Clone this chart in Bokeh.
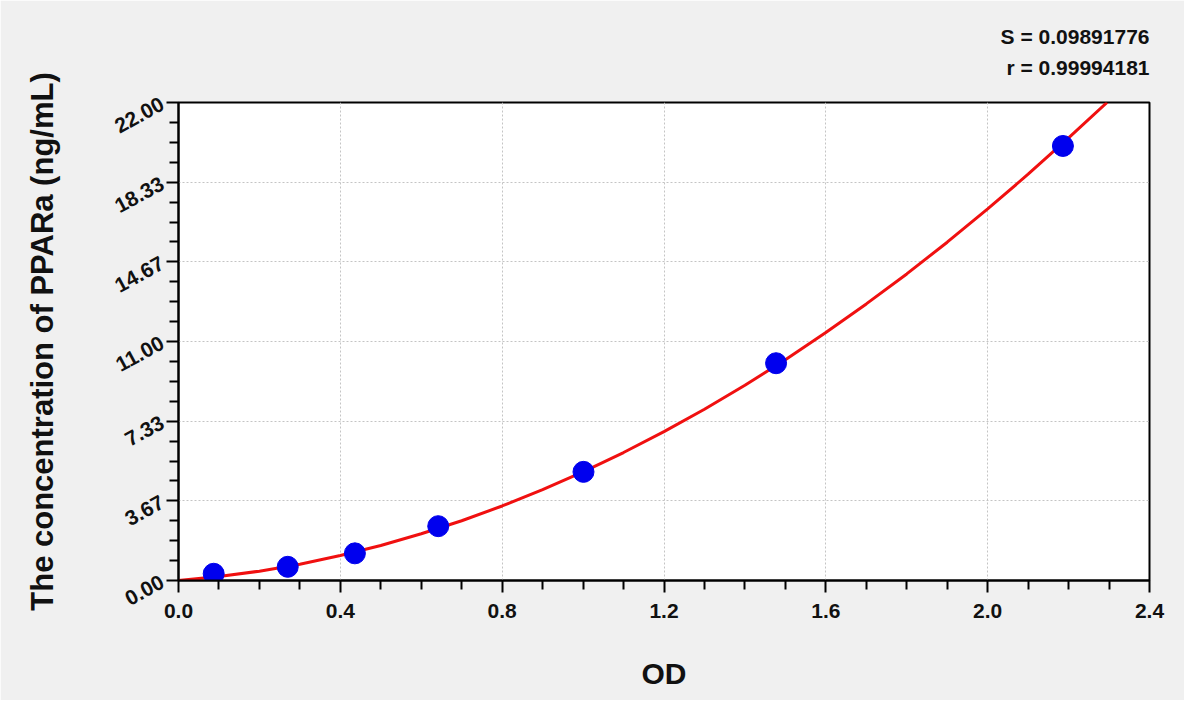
from bokeh.plotting import figure
from bokeh.models import FixedTicker, Range1d
from bokeh.embed import file_html
from bokeh.resources import INLINE

# Standard points (OD vs concentration)
od_points = [0.087, 0.270, 0.436, 0.642, 1.001, 1.477, 2.186]
conc_points = [0.31, 0.63, 1.25, 2.50, 5.00, 10.00, 20.00]

# Fitted curve
curve_od = [0.0, 0.1, 0.2, 0.3, 0.4, 0.5, 0.6, 0.7, 0.8, 0.9, 1.0, 1.1, 1.2,
            1.3, 1.4, 1.5, 1.6, 1.7, 1.8, 1.9, 2.0, 2.1, 2.2, 2.295]
curve_conc = [0.00, 0.18, 0.43, 0.75, 1.15, 1.61, 2.15, 2.75, 3.43, 4.18, 5.00,
              5.89, 6.85, 7.88, 8.99, 10.16, 11.41, 12.73, 14.11, 15.57, 17.10,
              18.70, 20.37, 22.00]

x_ticks = [0.0, 0.4, 0.8, 1.2, 1.6, 2.0, 2.4]
x_tick_labels = ["0.0", "0.4", "0.8", "1.2", "1.6", "2.0", "2.4"]
x_minor = [0.1, 0.2, 0.3, 0.5, 0.6, 0.7, 0.9, 1.0, 1.1, 1.3, 1.4, 1.5,
           1.7, 1.8, 1.9, 2.1, 2.2, 2.3]
y_ticks = [0.0, 22 / 6, 44 / 6, 11.0, 88 / 6, 110 / 6, 22.0]
y_tick_labels = ["0.00", "3.67", "7.33", "11.00", "14.67", "18.33", "22.00"]
y_minor = [22 / 24 * k for k in range(25) if k % 4 != 0]

stats_lines = ["S = 0.09891776", "r = 0.99994181"]

BG = "#f0f0f0"
FONT = "Liberation Sans"
TXT = "#111111"

p = figure(width=1184, height=700, output_backend="svg", toolbar_location=None,
           x_range=Range1d(0, 2.4), y_range=Range1d(0, 22),
           min_border_left=178, min_border_right=35,
           min_border_top=100, min_border_bottom=120,
           background_fill_color="white", border_fill_color=BG)

p.outline_line_color = "black"
p.outline_line_width = 2

# Stats text at top right (two lines, right aligned)
p.title.text = "\n".join(stats_lines)
p.title.align = "right"
p.title.text_align = "right"
p.title.text_font = FONT
p.title.text_font_style = "bold"
p.title.text_font_size = "21px"
p.title.text_line_height = 1.36
p.title.text_color = TXT
p.title.standoff = 46

# Grid
for g in (p.xgrid, p.ygrid):
    g.grid_line_color = "#c4c4c4"
    g.grid_line_dash = "2 2"
    g.grid_line_width = 1
p.xgrid.ticker = FixedTicker(ticks=x_ticks)
p.ygrid.ticker = FixedTicker(ticks=y_ticks)

# X axis
xa = p.xaxis[0]
xa.ticker = FixedTicker(ticks=x_ticks, minor_ticks=x_minor)
xa.major_label_overrides = {t: l for t, l in zip(x_ticks, x_tick_labels)}
xa.axis_label = "OD"
xa.axis_label_text_font = FONT
xa.axis_label_text_font_style = "bold"
xa.axis_label_text_font_size = "30px"
xa.axis_label_text_color = TXT
xa.axis_label_standoff = 36
xa.major_label_text_font = FONT
xa.major_label_text_font_style = "bold"
xa.major_label_text_font_size = "21px"
xa.major_label_text_color = TXT
xa.major_label_standoff = 11

# Y axis
ya = p.yaxis[0]
ya.ticker = FixedTicker(ticks=y_ticks, minor_ticks=y_minor)
ya.major_label_overrides = {t: l for t, l in zip(y_ticks, y_tick_labels)}
ya.axis_label = "The concentration of PPARa (ng/mL)"
ya.axis_label_text_font = FONT
ya.axis_label_text_font_style = "bold"
ya.axis_label_text_font_size = "31px"
ya.axis_label_text_color = TXT
ya.axis_label_standoff = 47
ya.major_label_text_font = FONT
ya.major_label_text_font_style = "bold"
ya.major_label_text_font_size = "21px"
ya.major_label_text_color = TXT
ya.major_label_orientation = 0.5
ya.major_label_standoff = 4

for ax in (xa, ya):
    ax.axis_line_color = "black"
    ax.axis_line_width = 2
    ax.major_tick_line_color = "black"
    ax.major_tick_line_width = 2
    ax.minor_tick_line_color = "black"
    ax.minor_tick_line_width = 2
    ax.major_tick_in = 0
    ax.major_tick_out = 12
    ax.minor_tick_in = 0
    ax.minor_tick_out = 9

# Curve and points
p.line(curve_od, curve_conc, line_color="#f01010", line_width=3)
p.scatter(od_points, conc_points, size=21, fill_color="#0000ee",
          line_color="#0000ee")

open("out.html", "w").write(file_html(p, INLINE))
